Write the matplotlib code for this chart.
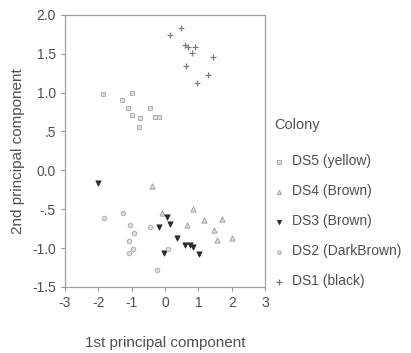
import matplotlib
matplotlib.use("Agg")
import matplotlib.pyplot as plt

# Principal component scores per colony
ds5_x = [-1.86, -1.29, -1.0, -1.11, -1.0, -0.75, -0.78, -0.45, -0.3, -0.18]
ds5_y = [0.98, 0.91, 1.0, 0.80, 0.71, 0.67, 0.56, 0.80, 0.69, 0.69]

ds4_x = [-0.4, -0.1, 0.84, 0.66, 1.17, 1.71, 1.47, 1.56, 2.01]
ds4_y = [-0.2, -0.55, -0.5, -0.7, -0.64, -0.62, -0.77, -0.9, -0.87]

ds3_x = [-2.0, -0.18, 0.06, 0.15, 0.36, -0.03, 0.6, 0.75, 0.84, 1.03]
ds3_y = [-0.16, -0.73, -0.6, -0.69, -0.87, -1.06, -0.96, -0.96, -0.99, -1.08]

ds2_x = [-1.27, -1.83, -1.05, -0.93, -1.08, -0.96, -1.08, -0.45, -0.24, 0.1]
ds2_y = [-0.55, -0.61, -0.7, -0.8, -0.91, -1.01, -1.06, -0.73, -1.28, -1.01]

ds1_x = [0.15, 0.48, 0.6, 0.7, 0.9, 0.8, 1.44, 0.63, 1.29, 0.96]
ds1_y = [1.74, 1.83, 1.61, 1.59, 1.59, 1.51, 1.46, 1.34, 1.23, 1.12]

x_ticks = [-3, -2, -1, 0, 1, 2, 3]
x_tick_labels = ["-3", "-2", "-1", "0", "1", "2", "3"]
y_ticks = [2.0, 1.5, 1.0, 0.5, 0.0, -0.5, -1.0, -1.5]
y_tick_labels = ["2.0", "1.5", "1.0", ".5", "0.0", "-.5", "-1.0", "-1.5"]

plt.rcParams["font.family"] = ["Liberation Sans", "DejaVu Sans"]

fig = plt.figure(figsize=(4.11, 3.53), dpi=100)
ax = fig.add_axes([0.158, 0.187, 0.487, 0.771])

txt = "#505050"
ax.scatter(ds5_x, ds5_y, marker="s", s=10, facecolor="#dddddd", edgecolor="#a8a8a8", linewidth=0.6, label="DS5 (yellow)")
ax.scatter(ds4_x, ds4_y, marker="^", s=14, facecolor="#dddddd", edgecolor="#9a9a9a", linewidth=0.6, label="DS4 (Brown)")
ax.scatter(ds3_x, ds3_y, marker="v", s=14, facecolor="#2a2a2a", edgecolor="#2a2a2a", linewidth=0.6, label="DS3 (Brown)")
ax.scatter(ds2_x, ds2_y, marker="o", s=11, facecolor="#dedede", edgecolor="#a8a8a8", linewidth=0.6, label="DS2 (DarkBrown)")
ax.scatter(ds1_x, ds1_y, marker="+", s=22, color="#7a7a7a", linewidth=0.9, label="DS1 (black)")

ax.set_xlim(-3, 3)
ax.set_ylim(-1.5, 2.0)
ax.set_xticks(x_ticks)
ax.set_xticklabels(x_tick_labels)
ax.set_yticks(y_ticks)
ax.set_yticklabels(y_tick_labels)
ax.tick_params(direction="out", length=3, width=0.8, colors="#999999", labelcolor=txt, labelsize=10)
for sp in ax.spines.values():
    sp.set_color("#a0a0a0")
    sp.set_linewidth(0.9)

ax.set_xlabel("1st principal component", fontsize=11, color=txt, labelpad=19)
ax.set_ylabel("2nd principal component", fontsize=11, color=txt, labelpad=5)

leg = ax.legend(loc="upper left", bbox_to_anchor=(0.667, 0.665), bbox_transform=fig.transFigure,
                frameon=False, title="Colony", fontsize=10, title_fontsize=10.5,
                labelspacing=1.15, handletextpad=0.6, handlelength=0.7, borderaxespad=0,
                borderpad=0, markerscale=0.8)
leg._legend_box.align = "left"
leg._legend_box.sep = 16
leg.get_title().set_color(txt)
for t in leg.get_texts():
    t.set_color(txt)

fig.savefig("out.png", dpi=100)
